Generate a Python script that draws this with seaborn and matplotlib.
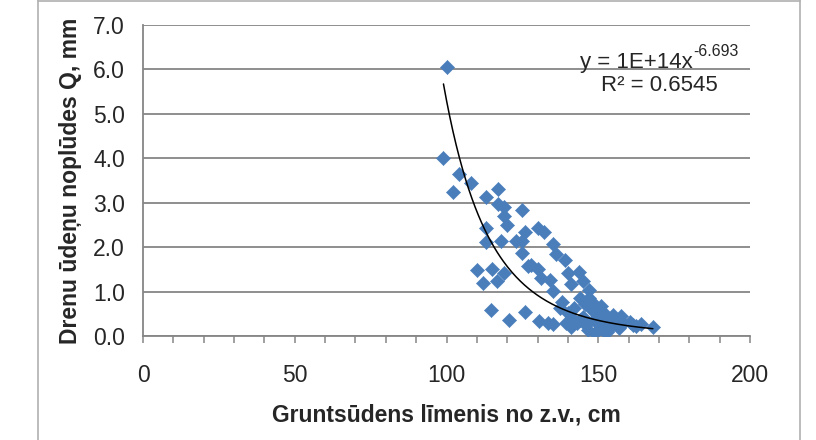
import numpy as np
import pandas as pd
import matplotlib
matplotlib.use("Agg")
import matplotlib.pyplot as plt
from matplotlib.lines import Line2D
import seaborn as sns

# --- data ---
gw_level = [100, 99, 104, 108, 102, 113, 117, 117, 119, 125, 119, 120, 113, 130, 132, 126,
            113, 118, 123, 125, 135, 136, 125, 139, 127, 130, 110, 115, 119, 116.5, 112, 131,
            134, 135, 138, 140, 114.5, 126, 120.5, 130.5, 133.5, 135, 139.5, 140, 143.5, 141,
            145, 147, 147, 148.5, 151, 142, 151.5, 155, 157.5, 160.5, 164, 168, 143, 146,
            149, 150.5, 153, 155, 158, 153, 149.5, 145, 148.5, 144, 151.5, 148, 145.5, 150,
            155.5, 161.5, 142, 141, 146.5, 152, 157, 162.5, 137.5, 144, 128, 152]
runoff = [6.05, 4.00, 3.65, 3.44, 3.25, 3.12, 3.30, 2.97, 2.91, 2.84, 2.69, 2.50, 2.42, 2.44, 2.33, 2.34,
          2.11, 2.13, 2.14, 2.13, 2.06, 1.84, 1.87, 1.72, 1.58, 1.51, 1.49, 1.51, 1.41, 1.24, 1.19, 1.31,
          1.27, 1.01, 0.77, 0.51, 0.58, 0.53, 0.37, 0.34, 0.30, 0.27, 0.30, 1.41, 1.45, 1.17,
          1.23, 1.03, 0.85, 0.72, 0.68, 0.62, 0.55, 0.47, 0.45, 0.32, 0.27, 0.20, 0.29, 0.25,
          0.06, 0.17, 0.08, 0.24, 0.30, 0.33, 0.43, 0.43, 0.36, 0.36, 0.28, 0.58, 0.73, 0.57,
          0.36, 0.24, 0.36, 0.20, 0.14, 0.12, 0.18, 0.22, 0.62, 0.85, 1.60, 0.42]

# power trend line y = a * x^b (Excel fit; coefficient shown rounded as 1E+14)
trend_a = 1.29e14
trend_b = -6.693
eq_main = "y = 1E+14x"
eq_exp = "-6.693"
r2_text = "R² = 0.6545"

x_label = "Gruntsūdens līmenis no z.v., cm"
y_label = "Drenu ūdeņu noplūdes Q, mm"
x_major = [0, 50, 100, 150, 200]
y_major = [0, 1, 2, 3, 4, 5, 6, 7]

# --- styling ---
sns.set_theme(style="white")
plt.rcParams["font.family"] = ["Liberation Sans", "DejaVu Sans"]

grey = "#868686"
blue = "#4A7EBB"

fig = plt.figure(figsize=(8.16, 4.40), dpi=100)
ax = fig.add_axes([143 / 816, 1 - 336 / 440, (750 - 143) / 816, (336 - 25) / 440])

df = pd.DataFrame({"x": gw_level, "y": runoff})
sns.scatterplot(data=df, x="x", y="y", ax=ax, marker="D", s=52, color=blue,
                edgecolor=blue, linewidth=0.4, zorder=3)

xs = np.linspace(min(gw_level), max(gw_level), 200)
trend = pd.DataFrame({"x": xs, "y": trend_a * xs ** trend_b})
sns.lineplot(data=trend, x="x", y="y", ax=ax, color="black", linewidth=1.1, zorder=4)

ax.set_xlim(0, 200)
ax.set_ylim(0, 7)
ax.set_xticks(x_major)
ax.set_xticks(np.arange(0, 201, 10), minor=True)
ax.set_yticks(y_major)
ax.set_yticklabels([f"{v:.1f}" for v in y_major])
ax.set_xticklabels([str(v) for v in x_major])

ax.yaxis.grid(True, color=grey, linewidth=1.3)
ax.xaxis.grid(False)
ax.set_axisbelow(True)
for side in ["top", "right"]:
    ax.spines[side].set_visible(False)
for side in ["left", "bottom"]:
    ax.spines[side].set_color(grey)
    ax.spines[side].set_linewidth(1.3)

ax.tick_params(axis="x", which="both", direction="out", length=5, width=1.1,
               color=grey, labelsize=16.5, pad=15, bottom=True)
ax.tick_params(axis="y", which="both", length=0, labelsize=16.5, pad=13)

ax.set_xlabel(x_label, fontsize=16.5, fontweight="bold", labelpad=12)
ax.set_ylabel(y_label, fontsize=16.5, fontweight="bold", labelpad=8)

ax.text(181.2, 6.03, eq_main, fontsize=16, ha="right", va="baseline")
ax.text(181.4, 6.30, eq_exp, fontsize=11.5, ha="left", va="baseline")
ax.text(170.3, 5.63, r2_text, fontsize=16, ha="center", va="center")

# outer chart border
bc = "#b0b0b0"
fig.add_artist(Line2D([38 / 816, 38 / 816], [0, 1], color=bc, linewidth=1.2))
fig.add_artist(Line2D([800 / 816, 800 / 816], [0, 1], color=bc, linewidth=1.2))
fig.add_artist(Line2D([38 / 816, 800 / 816], [0.998, 0.998], color=bc, linewidth=1.2))

fig.savefig("out.png", dpi=100, facecolor="white")
